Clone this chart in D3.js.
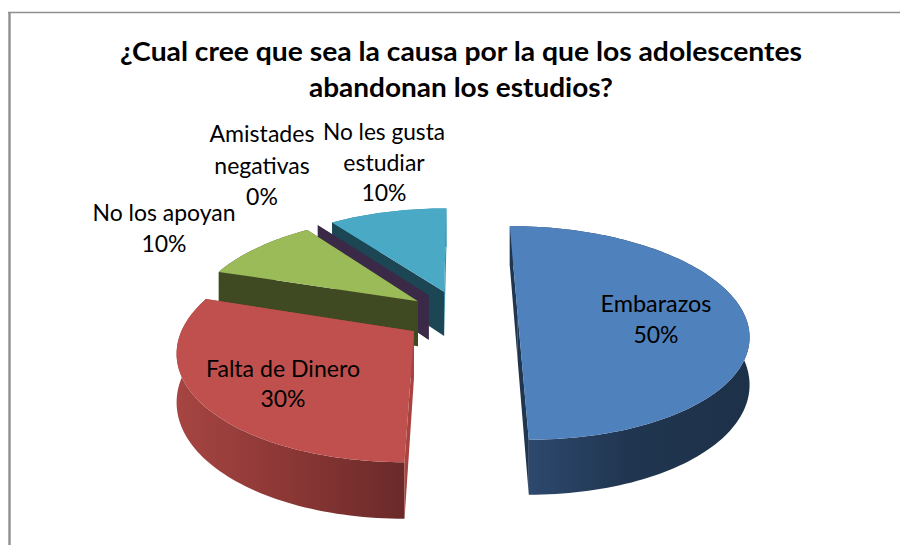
<!DOCTYPE html>
<html>
<head>
<meta charset="utf-8">
<script src="https://cdn.jsdelivr.net/npm/d3@7"></script>
<style>
  html, body { margin: 0; padding: 0; background: #fff; }
  svg { display: block; }
  text { font-family: Lato, "Open Sans", sans-serif; fill: #000; }
</style>
</head>
<body>
<script>
// data
var categories = ["Embarazos", "Falta de Dinero", "No los apoyan", "Amistades negativas", "No les gusta estudiar"];
var values = [50, 30, 10, 0, 10];
var titleLines = ["¿Cual cree que sea la causa por la que los adolescentes", "abandonan los estudios?"];
var labelLines = [["Embarazos"], ["Falta de Dinero"], ["No los apoyan"], ["Amistades", "negativas"], ["No les gusta", "estudiar"]];

// styles
var topColors = ["#4f81bd", "#c0504d", "#9bbb59", "#3d2c4a", "#4aa9c4"];
var edgeColors = ["#1f3550", "#a8433f", "#404a22", "#3a2a48", "#1d4655"];
var sideStops = [
  ["#304c74", "#20354f", "#1d3149"],
  ["#a64542", "#8a3735", "#6a2a29"],
  ["#404a22", "#404a22", "#404a22"],
  ["#3a2a48", "#3a2a48", "#3a2a48"],
  ["#2c8ea8", "#2c8ea8", "#2c8ea8"]
];
var labelPos = [[656, 312], [283, 377], [164, 220.5], [262, 142], [384, 140]];
var labelSteps = [31, 30, 31, 31.5, 30.5];
var labelWidths = [111, 154, 143, 105, 122];
var explodes = [0.25, 0.25, 0.24, 0.25, 0.25];

var width = 900, height = 545;

// pie plane -> screen, with a bit of perspective
var persp = 0.163, depth = 46;
var xs = d3.scaleLinear().domain([-1, 1]).range([461 - 227, 461 + 227]);
var ys = d3.scaleLinear().domain([-1, 1]).range([315.5 - 104, 315.5 + 104]);

function project(px, py, z) {
  var s = 1 / (1 - persp * py);
  return [xs(px * s), ys(py * s) + z * s];
}

var svg = d3.select("body").append("svg")
  .attr("width", width)
  .attr("height", height);

var defs = svg.append("defs");

// frame, only top and left are in the picture
svg.append("line").attr("x1", 9.5).attr("x2", 9.5).attr("y1", 12).attr("y2", height)
  .attr("stroke", "#8f8f8f").attr("stroke-width", 2.4);
svg.append("line").attr("x1", 8).attr("x2", width).attr("y1", 12.5).attr("y2", 12.5)
  .attr("stroke", "#8f8f8f").attr("stroke-width", 1.6);

var slices = d3.pie().sort(null).value(function(d) { return d; })(values);
var line = d3.line();

function arcPoints(d, z) {
  var mid = (d.startAngle + d.endAngle) / 2;
  var ox = Math.sin(mid) * explodes[d.index], oy = -Math.cos(mid) * explodes[d.index];
  var n = Math.max(2, Math.ceil((d.endAngle - d.startAngle) * 40));
  return d3.range(n + 1).map(function(i) {
    var a = d.startAngle + (d.endAngle - d.startAngle) * i / n;
    return project(ox + Math.sin(a), oy - Math.cos(a), z);
  });
}

function apex(d, z) {
  var mid = (d.startAngle + d.endAngle) / 2;
  return project(Math.sin(mid) * explodes[d.index], -Math.cos(mid) * explodes[d.index], z);
}

slices.forEach(function(d, i) {
  var g = defs.append("linearGradient").attr("id", "side" + i)
    .attr("gradientUnits", "userSpaceOnUse")
    .attr("x1", d3.min(arcPoints(d, 0), function(p) { return p[0]; })).attr("y1", 0)
    .attr("x2", d3.max(arcPoints(d, 0), function(p) { return p[0]; })).attr("y2", 0);
  sideStops[i].forEach(function(c, j) {
    g.append("stop").attr("offset", j / (sideStops[i].length - 1)).attr("stop-color", c);
  });
});

// back to front so the near slices cover the far ones
var order = [4, 3, 2, 0, 1];

order.forEach(function(i) {
  var d = slices[i];
  var top = arcPoints(d, 0), bottom = arcPoints(d, depth);
  var a0 = apex(d, 0), a1 = apex(d, depth);
  var first = top[0], last = top[top.length - 1];
  var firstB = bottom[0], lastB = bottom[bottom.length - 1];
  var g = svg.append("g").attr("class", "slice");

  // rim
  if (d.endAngle > d.startAngle) {
    g.append("path")
      .attr("d", line(top.concat(bottom.slice().reverse())) + "Z")
      .attr("fill", "url(#side" + i + ")");
  }

  // straight walls, the end one last because it faces the viewer on the left slices
  g.append("path")
    .attr("d", line([a0, first, firstB, a1]) + "Z")
    .attr("fill", edgeColors[i]);
  g.append("path")
    .attr("d", line([a0, last, lastB, a1]) + "Z")
    .attr("fill", i == 4 ? "#2c8ea8" : edgeColors[i]);
  if (i == 4) {
    g.select("path:nth-child(2)").raise();
  }

  // top face
  g.append("path")
    .attr("d", line([a0].concat(top)) + "Z")
    .attr("fill", topColors[i]);
});

// title
titleLines.forEach(function(t, i) {
  svg.append("text")
    .attr("x", 461)
    .attr("y", i == 0 ? 61 : 97)
    .attr("text-anchor", "middle")
    .attr("font-size", 26)
    .attr("font-weight", 700)
    .attr("textLength", i == 0 ? 682 : 304)
    .attr("lengthAdjust", "spacingAndGlyphs")
    .text(t);
});

// data labels
categories.forEach(function(c, i) {
  var lines = labelLines[i].concat(values[i] + "%");
  lines.forEach(function(t, j) {
    var el = svg.append("text")
      .attr("x", labelPos[i][0])
      .attr("y", labelPos[i][1] + j * labelSteps[i])
      .attr("text-anchor", "middle")
      .attr("font-size", 23)
      .text(t);
    if (j == 0) el.attr("textLength", labelWidths[i]).attr("lengthAdjust", "spacingAndGlyphs");
  });
});
</script>
</body>
</html>
